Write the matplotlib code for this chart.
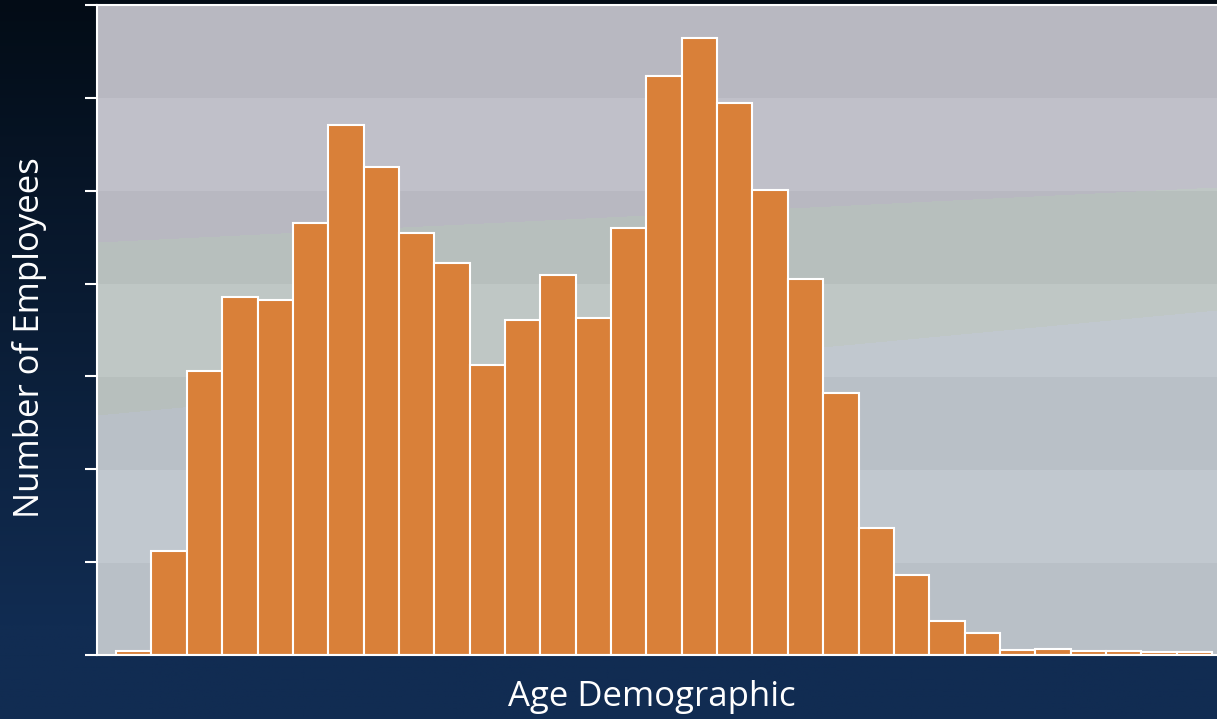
import matplotlib.pyplot as plt
import numpy as np

# histogram of employee ages: one count per bin
bin_edges = np.arange(0, 32)
counts = [
    2.2, 55.9, 152.7, 193.0, 190.9, 232.8, 285.5, 262.9, 227.4, 211.3,
    155.9, 180.6, 204.8, 181.2, 230.1, 311.8, 332.3, 297.3, 250.5, 202.7,
    140.9, 68.3, 43.0, 18.3, 11.8, 2.7, 3.2, 2.2, 2.2, 1.6, 1.6,
]
y_ticks = [0, 50, 100, 150, 200, 250, 300, 350]

x_label = "Age Demographic"
y_label = "Number of Employees"

plt.rcParams["font.family"] = ["Open Sans", "DejaVu Sans"]

fig = plt.figure(figsize=(12.17, 7.19), dpi=100)

# dark navy backdrop
bg = fig.add_axes([0, 0, 1, 1], zorder=-10)
grad = np.linspace(0, 1, 300)[:, None]
top_col = np.array([3, 12, 22]) / 255
bot_col = np.array([17, 44, 82]) / 255
g = np.clip(grad * 1.15, 0, 1)
img = top_col[None, None, :] * (1 - g[..., None]) + bot_col[None, None, :] * g[..., None]
img = np.repeat(img, 4, axis=1)
bg.imshow(img, aspect="auto", extent=[0, 1, 0, 1], origin="upper")
bg.axis("off")

left = 97 / 1217
bottom = (719 - 655) / 719
top = (719 - 5) / 719
ax_rect = [left, bottom, 1 - left, top - bottom]

# banded grey/green panel behind the plot
panel = fig.add_axes(ax_rect, zorder=-5)
H, W = 650, 1120
yy, xx = np.mgrid[0:H, 0:W]
purple = np.array([184, 184, 193])
green = np.array([183, 191, 189])
blue = np.array([185, 192, 199])
l1 = 237 - 55 * xx / W
l2 = 410 - 105 * xx / W
pic = np.where((yy < l1)[..., None], purple, np.where((yy < l2)[..., None], green, blue)).astype(float)
band = (yy // (H / 7)).astype(int)
pic += np.where((band % 2 == 1)[..., None], 8, 0)
panel.imshow(pic / 255, aspect="auto", extent=[0, 1, 0, 1], origin="upper")
panel.axis("off")

ax = fig.add_axes(ax_rect)
ax.set_facecolor("none")
ax.hist(
    bin_edges[:-1],
    bins=bin_edges,
    weights=counts,
    color="#d98039",
    edgecolor="white",
    linewidth=1.5,
)

ax.set_xlim(-0.54, 31.14)
ax.set_ylim(0, 350)
ax.set_yticks(y_ticks)
ax.set_yticklabels([])
ax.set_xticks([])

for side in ["left", "bottom", "top"]:
    ax.spines[side].set_color("white")
    ax.spines[side].set_linewidth(1.5)
ax.spines["right"].set_visible(False)
ax.tick_params(axis="y", colors="white", length=9, width=1.5)

# axis titles placed by hand, like the reference
fig.text(651.5 / 1217, 1 - 697 / 719, x_label, color="white",
         fontsize=25, ha="center", va="center")
fig.text(30 / 1217, 1 - 337.5 / 719, y_label, color="white",
         fontsize=25, ha="center", va="center", rotation=90)

fig.savefig("out.png", dpi=100)
